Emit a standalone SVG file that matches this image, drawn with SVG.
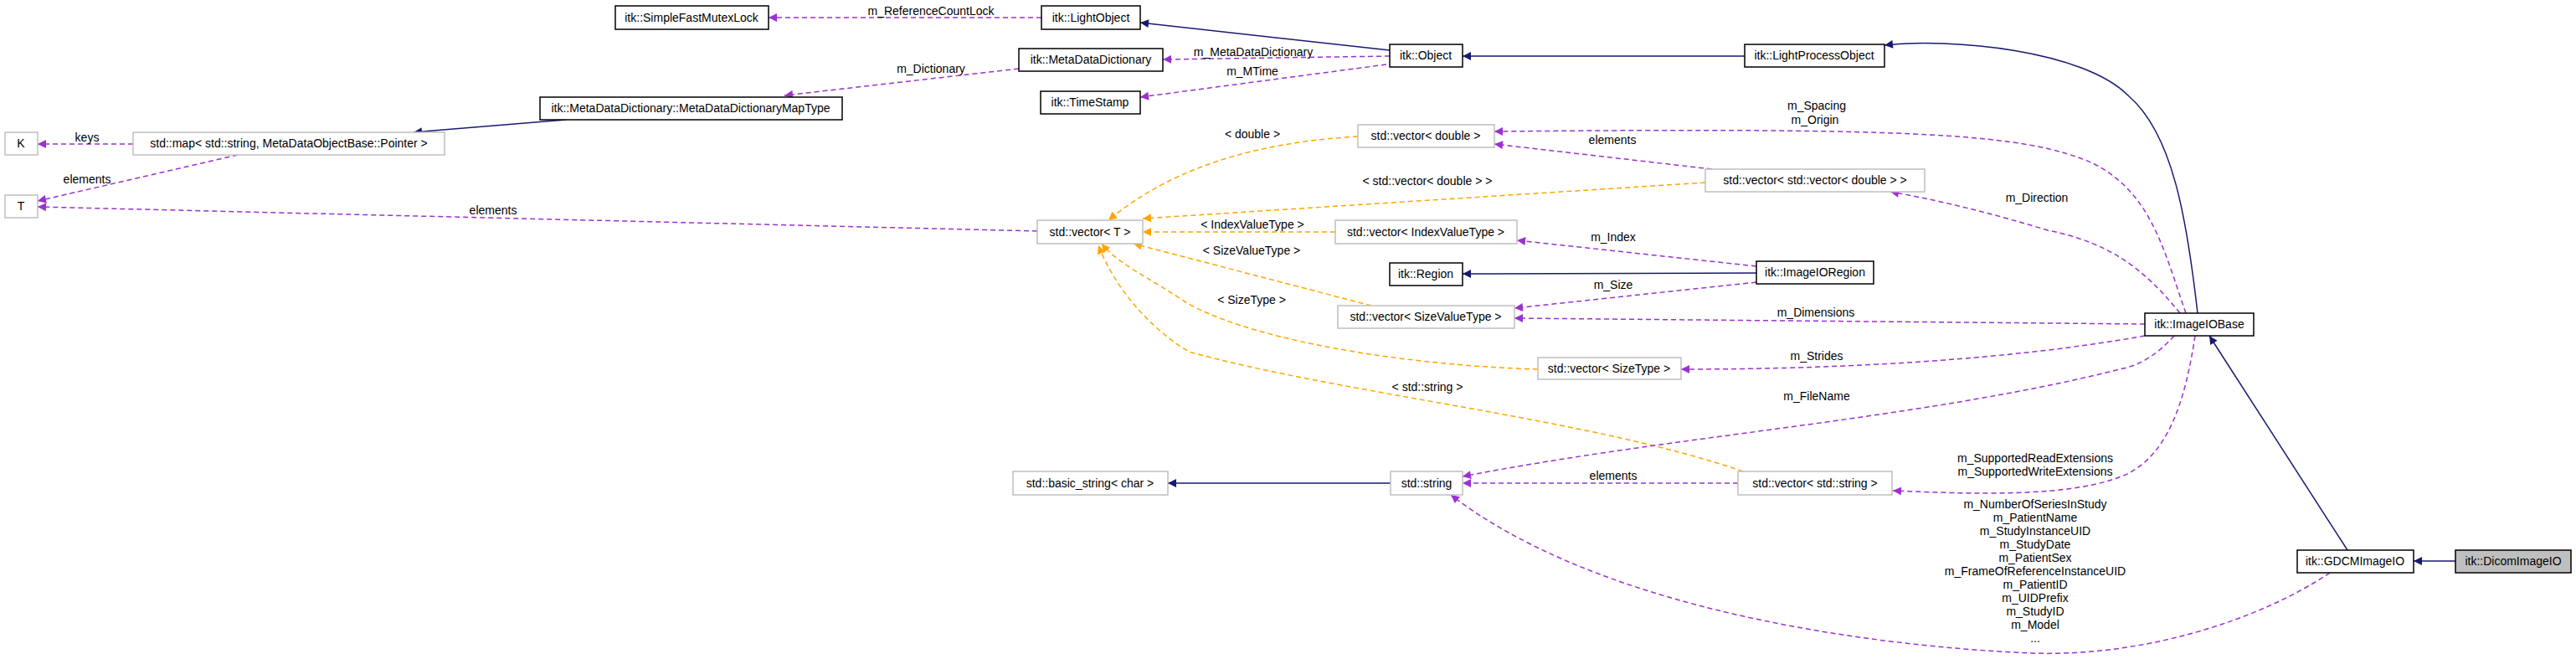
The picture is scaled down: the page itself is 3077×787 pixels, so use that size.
<svg xmlns="http://www.w3.org/2000/svg" width="3077" height="787" viewBox="0 0 3077 787">
<style>
text{font-family:"Liberation Sans",Arial,sans-serif;font-size:14px;fill:#000}
.n rect{fill:#fff;stroke:#000;stroke-width:1.5}
.g rect{fill:#fff;stroke:#bfbfbf;stroke-width:1.5}
.c text{text-anchor:middle}
.n text,.g text{text-anchor:middle}
.p{fill:none;stroke:#9a32cd;stroke-width:1.5;stroke-dasharray:6,4;marker-end:url(#ap)}
.o{fill:none;stroke:#ffa500;stroke-width:1.5;stroke-dasharray:6,4;marker-end:url(#ao)}
.b{fill:none;stroke:#191970;stroke-width:1.5;marker-end:url(#ab)}
</style>
<defs>
<marker id="ap" viewBox="0 0 10 10" refX="10" refY="5" markerWidth="12" markerHeight="10" markerUnits="userSpaceOnUse" orient="auto"><path d="M0,0L10,5L0,10z" fill="#9a32cd"/></marker>
<marker id="ao" viewBox="0 0 10 10" refX="10" refY="5" markerWidth="12" markerHeight="10" markerUnits="userSpaceOnUse" orient="auto"><path d="M0,0L10,5L0,10z" fill="#ffa500"/></marker>
<marker id="ab" viewBox="0 0 10 10" refX="10" refY="5" markerWidth="12" markerHeight="10" markerUnits="userSpaceOnUse" orient="auto"><path d="M0,0L10,5L0,10z" fill="#191970"/></marker>
</defs>
<rect width="3077" height="787" fill="#fff"/>
<g id="connectors" class="c">
<path class="p" d="M1244,21L918,21"/><text x="1112" y="18">m_ReferenceCountLock</text>
<path class="b" d="M1660,60L1362,27"/>
<path class="p" d="M1660,67L1389,71"/><text x="1497" y="67">m_MetaDataDictionary</text>
<path class="p" d="M1656,77L1362,116"/><text x="1496" y="90">m_MTime</text>
<path class="p" d="M1217,82L937,114"/><text x="1112" y="87">m_Dictionary</text>
<path class="b" d="M676,143L494,158"/>
<path class="p" d="M159,172L45,172"/><text x="104" y="169">keys</text>
<path class="p" d="M284,185L45,240"/><text x="104" y="219">elements</text>
<path class="p" d="M1239,276L45,247"/><text x="589" y="256">elements</text>
<path class="b" d="M2084,67L1747,67"/>
<path class="b" d="M2625,374C2612,260 2595,160 2543,115C2490,60 2330,45 2251,54"/>
<path class="p" d="M2611,374C2585,300 2570,230 2500,195C2420,160 2300,152 1785,157"/><text x="2170" y="131">m_Spacing</text><text x="2168" y="148">m_Origin</text>
<path class="p" d="M2045,202L1785,172"/><text x="1926" y="172">elements</text>
<path class="o" d="M2037,218L1365,261"/><text x="1705" y="221">&lt; std::vector&lt; double &gt; &gt;</text>
<path class="o" d="M1622,163C1500,170 1400,200 1324,263"/><text x="1496" y="165">&lt; double &gt;</text>
<path class="p" d="M2604,374C2560,320 2520,290 2446,275C2380,255 2320,240 2258,229"/><text x="2433" y="241">m_Direction</text>
<path class="o" d="M1595,277L1365,277"/><text x="1496" y="273">&lt; IndexValueType &gt;</text>
<path class="p" d="M2098,318L1812,287"/><text x="1927" y="288">m_Index</text>
<path class="b" d="M2098,326L1747,327"/>
<path class="p" d="M2098,337L1809,368"/><text x="1927" y="345">m_Size</text>
<path class="p" d="M2562,387L1809,380"/><text x="2169" y="378">m_Dimensions</text>
<path class="o" d="M1638,365L1354,291"/><text x="1495" y="304">&lt; SizeValueType &gt;</text>
<path class="o" d="M1837,441C1650,435 1480,400 1415,360C1370,330 1335,315 1316,291"/><text x="1495" y="363">&lt; SizeType &gt;</text>
<path class="p" d="M2562,401C2400,430 2200,441 2008,441"/><text x="2170" y="430">m_Strides</text>
<path class="o" d="M2082,563C1900,500 1600,470 1420,420C1370,390 1330,340 1312,293"/><text x="1705" y="467">&lt; std::string &gt;</text>
<path class="p" d="M2597,401C2580,420 2560,435 2536,440C2300,500 2000,520 1747,569"/><text x="2170" y="478">m_FileName</text>
<path class="p" d="M2076,577L1747,577"/><text x="1927" y="573">elements</text>
<path class="b" d="M1661,577L1395,577"/>
<path class="p" d="M2622,401C2610,480 2590,540 2543,565C2480,595 2360,590 2261,586"/><text x="2431" y="552">m_SupportedReadExtensions</text><text x="2431" y="568">m_SupportedWriteExtensions</text>
<path class="b" d="M2804,657L2639,401"/>
<path class="b" d="M2933,670L2883,670"/>
<path class="p" d="M2783,684C2700,740 2560,785 2426,780C2200,770 1900,720 1733,591"/>
<text x="2431" y="607">m_NumberOfSeriesInStudy</text>
<text x="2431" y="623">m_PatientName</text>
<text x="2431" y="639">m_StudyInstanceUID</text>
<text x="2431" y="655">m_StudyDate</text>
<text x="2431" y="671">m_PatientSex</text>
<text x="2431" y="687">m_FrameOfReferenceInstanceUID</text>
<text x="2431" y="703">m_PatientID</text>
<text x="2431" y="719">m_UIDPrefix</text>
<text x="2431" y="735">m_StudyID</text>
<text x="2431" y="751">m_Model</text>
<text x="2431" y="767">...</text>
</g>
<g id="SimpleFastMutexLock" class="n"><rect x="735" y="7" width="183" height="28"/><text x="826" y="26">itk::SimpleFastMutexLock</text></g>
<g id="LightObject" class="n"><rect x="1244" y="7" width="118" height="28"/><text x="1303" y="26">itk::LightObject</text></g>
<g id="MetaDataDictionary" class="n"><rect x="1217" y="58" width="172" height="27"/><text x="1303" y="76">itk::MetaDataDictionary</text></g>
<g id="TimeStamp" class="n"><rect x="1243" y="109" width="119" height="27"/><text x="1302" y="127">itk::TimeStamp</text></g>
<g id="Object" class="n"><rect x="1660" y="53" width="87" height="27"/><text x="1703" y="71">itk::Object</text></g>
<g id="LightProcessObject" class="n"><rect x="2084" y="53" width="167" height="27"/><text x="2167" y="71">itk::LightProcessObject</text></g>
<g id="MapType" class="n"><rect x="645" y="116" width="361" height="27"/><text x="825" y="134">itk::MetaDataDictionary::MetaDataDictionaryMapType</text></g>
<g id="stdmap" class="g"><rect x="159" y="158" width="372" height="27"/><text x="345" y="176">std::map&lt; std::string, MetaDataObjectBase::Pointer &gt;</text></g>
<g id="K" class="g"><rect x="6" y="158" width="39" height="27"/><text x="25" y="176">K</text></g>
<g id="T" class="g"><rect x="6" y="233" width="39" height="27"/><text x="25" y="251">T</text></g>
<g id="vecdouble" class="g"><rect x="1622" y="149" width="163" height="27"/><text x="1703" y="167">std::vector&lt; double &gt;</text></g>
<g id="vecvecdouble" class="g"><rect x="2037" y="202" width="262" height="27"/><text x="2168" y="220">std::vector&lt; std::vector&lt; double &gt; &gt;</text></g>
<g id="vecT" class="g"><rect x="1239" y="263" width="126" height="28"/><text x="1302" y="282">std::vector&lt; T &gt;</text></g>
<g id="vecIndex" class="g"><rect x="1595" y="263" width="217" height="28"/><text x="1703" y="282">std::vector&lt; IndexValueType &gt;</text></g>
<g id="Region" class="n"><rect x="1660" y="314" width="87" height="27"/><text x="1703" y="332">itk::Region</text></g>
<g id="ImageIORegion" class="n"><rect x="2098" y="312" width="140" height="27"/><text x="2168" y="330">itk::ImageIORegion</text></g>
<g id="vecSizeValue" class="g"><rect x="1598" y="365" width="211" height="27"/><text x="1703" y="383">std::vector&lt; SizeValueType &gt;</text></g>
<g id="ImageIOBase" class="n"><rect x="2562" y="374" width="130" height="27"/><text x="2627" y="392">itk::ImageIOBase</text></g>
<g id="vecSizeType" class="g"><rect x="1837" y="427" width="171" height="26"/><text x="1922" y="445">std::vector&lt; SizeType &gt;</text></g>
<g id="basicstring" class="g"><rect x="1210" y="563" width="185" height="28"/><text x="1302" y="582">std::basic_string&lt; char &gt;</text></g>
<g id="stdstring" class="g"><rect x="1661" y="563" width="86" height="28"/><text x="1704" y="582">std::string</text></g>
<g id="vecstring" class="g"><rect x="2076" y="563" width="184" height="28"/><text x="2168" y="582">std::vector&lt; std::string &gt;</text></g>
<g id="GDCMImageIO" class="n"><rect x="2744" y="657" width="139" height="27"/><text x="2813" y="675">itk::GDCMImageIO</text></g>
<g id="DicomImageIO" class="n"><rect x="2933" y="657" width="138" height="27" style="fill:#bfbfbf"/><text x="3002" y="675">itk::DicomImageIO</text></g>
</svg>
